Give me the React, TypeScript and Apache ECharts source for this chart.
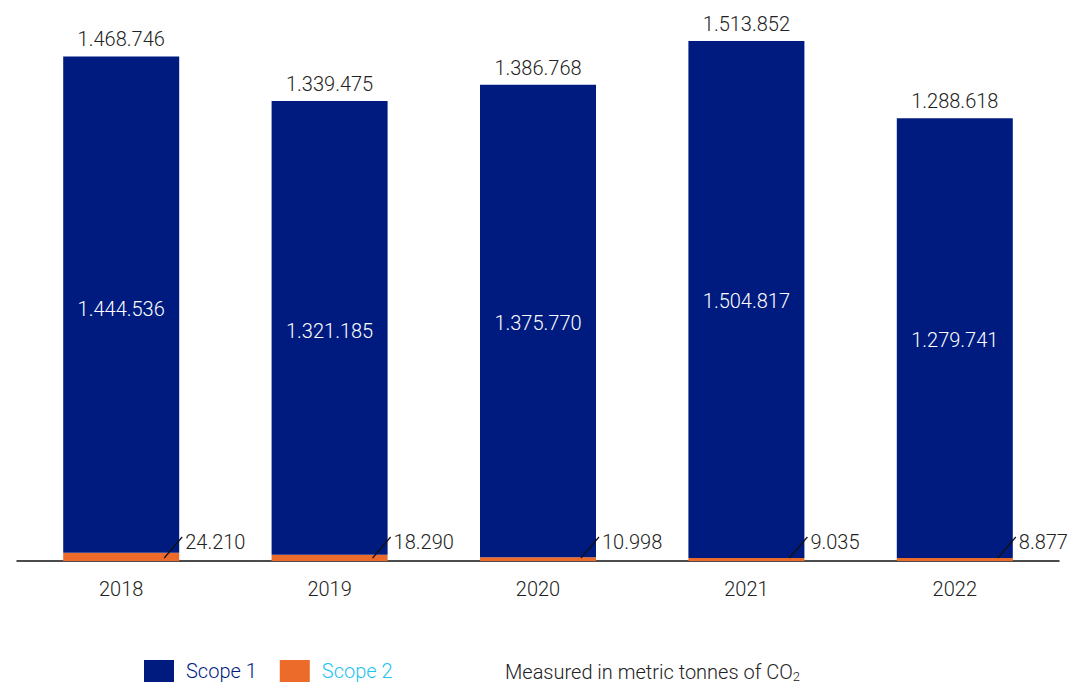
import React, { useEffect, useRef } from "react";
import * as echarts from "echarts";

const years = ["2018", "2019", "2020", "2021", "2022"];
const scope1 = [1444536, 1321185, 1375770, 1504817, 1279741];
const scope2 = [24210, 18290, 10998, 9035, 8877];
const totals = [1468746, 1339475, 1386768, 1513852, 1288618];

const NAVY = "#001b7f";
const ORANGE = "#ec6a2a";
const TEXT = "#222222";
const FONT = "Roboto";

const fmt = (v: number) => String(v).replace(/\B(?=(\d{3})+(?!\d))/g, ".");

export default function App() {
  const ref = useRef<HTMLDivElement>(null);
  useEffect(() => {
    const chart = echarts.init(ref.current!, null, { renderer: "svg" });
    chart.setOption({
      animation: false,
      textStyle: { fontFamily: FONT },
      grid: { left: 17, right: 12, top: 41, height: 520 },
      legend: {
        left: 139,
        top: 655,
        itemWidth: 30,
        itemHeight: 22,
        itemGap: 23,
        icon: "rect",
        textStyle: { fontSize: 20, fontWeight: 300, fontFamily: FONT, padding: [0, 0, 0, 7] },
        data: [
          { name: "Scope 1", textStyle: { color: NAVY } },
          { name: "Scope 2", textStyle: { color: "#1ec3f2" } },
        ],
      },
      xAxis: {
        type: "category",
        data: years,
        axisLine: { lineStyle: { color: "#111", width: 1.5 } },
        axisTick: { show: false },
        axisLabel: { fontSize: 20, color: TEXT, fontWeight: 300, margin: 18 },
      },
      yAxis: {
        type: "value",
        min: 0,
        max: totals[3],
        show: false,
        splitLine: { show: false },
      },
      series: [
        {
          name: "Scope 2",
          type: "bar",
          stack: "t",
          barWidth: 116,
          data: scope2,
          itemStyle: { color: ORANGE },
        },
        {
          name: "Scope 1",
          type: "bar",
          stack: "t",
          barWidth: 116,
          data: scope1,
          itemStyle: { color: NAVY },
        },
        {
          name: "Total",
          type: "bar",
          stack: "t",
          barWidth: 116,
          data: totals.map(() => 0),
          itemStyle: { color: "transparent" },
          label: {
            show: true,
            position: "top",
            distance: 7,
            color: TEXT,
            fontSize: 20,
            fontWeight: 300,
            fontFamily: FONT,
            formatter: (p: any) => fmt(totals[p.dataIndex]),
          },
        },
        {
          name: "Labels",
          type: "custom",
          z: 10,
          data: scope2.map((v, i) => [i, v, scope1[i], totals[i]]),
          renderItem: (params: any, api: any) => {
            const p = api.coord([api.value(0), 0]);
            const mid = api.coord([api.value(0), api.value(3) / 2]);
            const x = p[0];
            const y = p[1];
            return {
              type: "group",
              children: [
                {
                  type: "text",
                  style: {
                    x: mid[0],
                    y: mid[1],
                    text: fmt(api.value(2)),
                    fill: "#ffffff",
                    fontSize: 20,
                    fontWeight: 300,
                    fontFamily: FONT,
                    verticalAlign: "middle",
                    align: "center",
                  },
                },
                {
                  type: "line",
                  shape: { x1: x + 43, y1: y - 3, x2: x + 61, y2: y - 24 },
                  style: { stroke: "#111", lineWidth: 1.2 },
                },
                {
                  type: "text",
                  style: {
                    x: x + 64,
                    y: y - 19,
                    text: fmt(api.value(1)),
                    fill: TEXT,
                    fontSize: 20,
                    fontWeight: 300,
                    fontFamily: FONT,
                    verticalAlign: "middle",
                    align: "left",
                  },
                },
              ],
            };
          },
        },
      ],
      graphic: [
        {
          type: "text",
          left: 505,
          top: 662,
          style: {
            text: "{a|Measured in metric tonnes of CO}{b|2}",
            rich: {
              a: { fontSize: 20, fontWeight: 300, fontFamily: FONT, fill: TEXT, color: TEXT, lineHeight: 22, verticalAlign: "bottom" },
              b: { fontSize: 13, fontWeight: 300, fontFamily: FONT, fill: TEXT, color: TEXT, lineHeight: 16, verticalAlign: "bottom", padding: [0, 0, -1, 0] },
            },
          },
        },
      ],
    });
    return () => chart.dispose();
  }, []);
  return (
    <div
      ref={ref}
      style={{ position: "fixed", left: 0, top: 0, width: 1071, height: 685, background: "#fff" }}
    />
  );
}
